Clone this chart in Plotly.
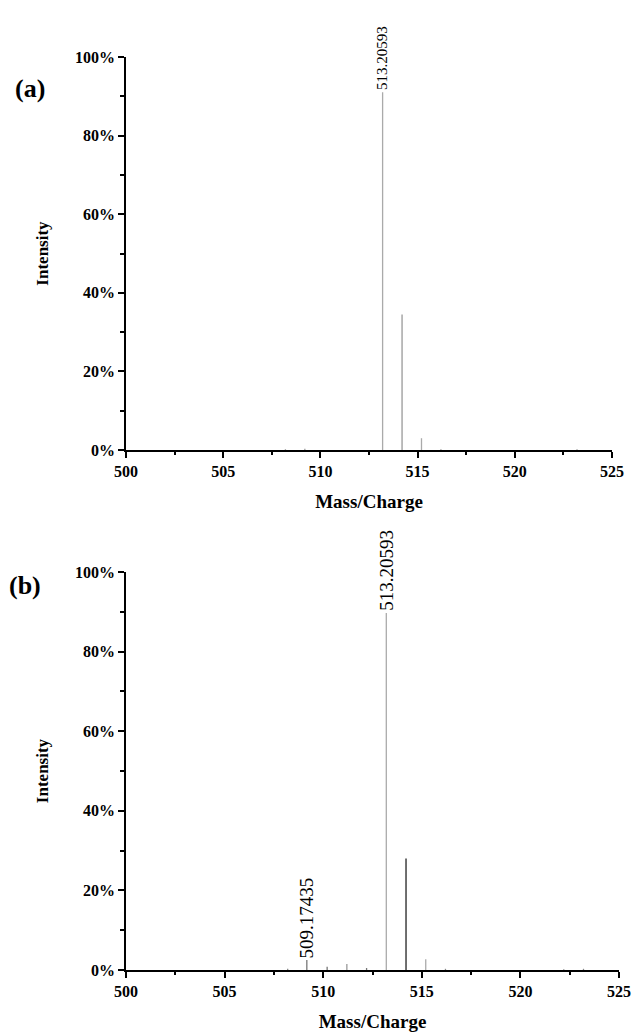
import plotly.graph_objects as go

# ---- data ----
mz_a = [508.2, 509.2, 513.2, 514.2, 515.2, 516.2, 523.2]
int_a = [0.2, 0.3, 91.0, 34.5, 3.0, 0.2, 0.2]
color_a = ["#999999", "#999999", "#aaaaaa", "#999999", "#aaaaaa", "#999999", "#999999"]

mz_b = [508.2, 509.17, 510.2, 511.2, 512.2, 513.2, 514.2, 515.2, 516.2, 522.2, 523.2]
int_b = [0.3, 2.5, 0.8, 1.5, 0.5, 89.7, 28.0, 2.7, 0.3, 0.2, 0.3]
color_b = ["#888888", "#777777", "#777777", "#999999", "#777777", "#aaaaaa", "#222222",
           "#aaaaaa", "#888888", "#888888", "#888888"]

labels_a = [(513.2, 91.0, "513.20593")]
labels_b = [(513.2, 89.7, "513.20593"), (509.17, 2.5, "509.17435")]

x_ticks = [500, 505, 510, 515, 520, 525]
y_ticks = [0, 20, 40, 60, 80, 100]
y_tick_text = ["0%", "20%", "40%", "60%", "80%", "100%"]

FONT = "Times New Roman, Liberation Serif, serif"

fig = go.Figure()

def add_peaks(mz, inten, colors, xa, ya):
    for m, h, c in zip(mz, inten, colors):
        fig.add_trace(go.Scatter(x=[m, m], y=[0, h], mode="lines",
                                 line=dict(color=c, width=1.3),
                                 xaxis=xa, yaxis=ya, showlegend=False,
                                 hoverinfo="skip"))

add_peaks(mz_a, int_a, color_a, "x", "y")
add_peaks(mz_b, int_b, color_b, "x2", "y2")

W, H = 632, 1034
ax_common = dict(showline=True, linecolor="black", linewidth=1.5,
                 showgrid=False, zeroline=False, ticks="outside",
                 ticklen=6, tickwidth=1.5, tickcolor="black", automargin=False,
                 tickfont=dict(family=FONT, size=16, color="black", weight="bold"))

xcommon = dict(ax_common, range=[500, 525], tickvals=x_ticks,
               minor=dict(dtick=2.5, tick0=500, ticks="outside", ticklen=3,
                          tickwidth=1.5, tickcolor="black"),
               title=dict(text="Mass/Charge", standoff=16,
                          font=dict(family=FONT, size=19, color="black", weight="bold")))
ycommon = dict(ax_common, range=[0, 100], tickvals=y_ticks, ticktext=y_tick_text,
               minor=dict(dtick=10, tick0=0, ticks="outside", ticklen=4,
                          tickwidth=1.5, tickcolor="black"),
               title=dict(text="Intensity", standoff=22,
                          font=dict(family=FONT, size=17, color="black", weight="bold")))

fig.update_layout(
    width=W, height=H, margin=dict(l=0, r=0, t=0, b=0, autoexpand=False),
    paper_bgcolor="white", plot_bgcolor="white",
    xaxis=dict(xcommon, domain=[126 / W, 612 / W], anchor="y"),
    yaxis=dict(ycommon, domain=[1 - 450 / H, 1 - 57 / H], anchor="x"),
    xaxis2=dict(xcommon, domain=[126 / W, 619 / W], anchor="y2"),
    yaxis2=dict(ycommon, domain=[1 - 970 / H, 1 - 572 / H], anchor="x2"),
)

for (m, h, t) in labels_a:
    fig.add_annotation(x=m, y=h, xref="x", yref="y", text=t, textangle=-90,
                       showarrow=False, yanchor="bottom", xanchor="center",
                       font=dict(family=FONT, size=15, color="black"))
for (m, h, t) in labels_b:
    fig.add_annotation(x=m, y=h, xref="x2", yref="y2", text=t, textangle=-90,
                       showarrow=False, yanchor="bottom", xanchor="center",
                       font=dict(family=FONT, size=19, color="black"))

fig.add_annotation(x=30 / W, y=1 - 89 / H, xref="paper", yref="paper", text="(a)",
                   showarrow=False, xanchor="center", yanchor="middle",
                   font=dict(family=FONT, size=26, color="black", weight="bold"))
fig.add_annotation(x=25 / W, y=1 - 585 / H, xref="paper", yref="paper", text="(b)",
                   showarrow=False, xanchor="center", yanchor="middle",
                   font=dict(family=FONT, size=26, color="black", weight="bold"))

fig.write_html("out.html")
